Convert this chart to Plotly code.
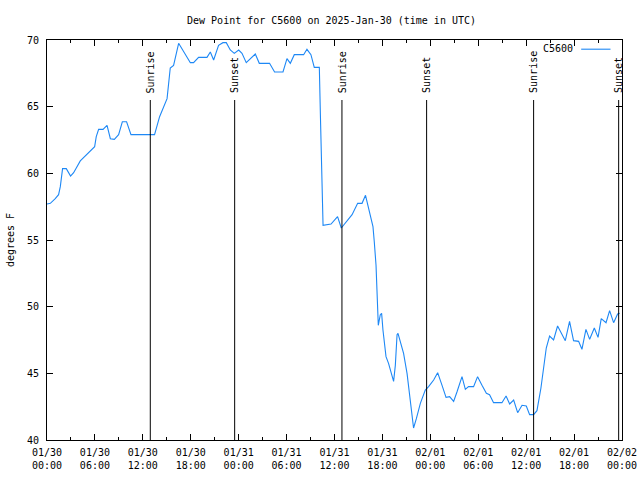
import plotly.graph_objects as go

# ---- data ----
times = [
    "2025-01-30 00:00", "2025-01-30 00:25", "2025-01-30 01:02", "2025-01-30 01:27", "2025-01-30 01:40",
    "2025-01-30 01:57", "2025-01-30 02:25", "2025-01-30 02:57", "2025-01-30 03:20", "2025-01-30 03:45",
    "2025-01-30 04:10", "2025-01-30 05:58", "2025-01-30 06:10", "2025-01-30 06:28", "2025-01-30 07:01",
    "2025-01-30 07:31", "2025-01-30 07:56", "2025-01-30 08:26", "2025-01-30 08:58", "2025-01-30 09:26",
    "2025-01-30 09:58", "2025-01-30 10:31", "2025-01-30 13:28", "2025-01-30 14:06", "2025-01-30 15:02",
    "2025-01-30 15:26", "2025-01-30 15:51", "2025-01-30 16:29", "2025-01-30 17:57", "2025-01-30 18:21",
    "2025-01-30 18:59", "2025-01-30 20:02", "2025-01-30 20:27", "2025-01-30 20:52", "2025-01-30 21:29",
    "2025-01-30 22:02", "2025-01-30 22:27", "2025-01-30 22:57", "2025-01-30 23:27", "2025-01-31 00:00",
    "2025-01-31 00:25", "2025-01-31 00:57", "2025-01-31 02:05", "2025-01-31 02:35", "2025-01-31 03:52",
    "2025-01-31 04:30", "2025-01-31 05:33", "2025-01-31 06:03", "2025-01-31 06:28", "2025-01-31 06:58",
    "2025-01-31 08:08", "2025-01-31 08:33", "2025-01-31 09:03", "2025-01-31 09:28", "2025-01-31 10:06",
    "2025-01-31 10:14", "2025-01-31 10:25", "2025-01-31 10:34", "2025-01-31 11:34", "2025-01-31 12:23",
    "2025-01-31 12:51", "2025-01-31 14:12", "2025-01-31 14:54", "2025-01-31 15:27", "2025-01-31 15:53",
    "2025-01-31 16:29", "2025-01-31 16:49", "2025-01-31 16:59", "2025-01-31 17:12", "2025-01-31 17:19",
    "2025-01-31 17:29", "2025-01-31 17:44", "2025-01-31 17:54", "2025-01-31 18:04", "2025-01-31 18:14",
    "2025-01-31 18:27", "2025-01-31 18:46", "2025-01-31 19:04", "2025-01-31 19:24", "2025-01-31 19:37",
    "2025-01-31 19:50", "2025-01-31 19:57", "2025-01-31 20:14", "2025-01-31 20:39", "2025-01-31 21:05",
    "2025-01-31 21:30", "2025-01-31 21:54", "2025-01-31 22:15", "2025-01-31 22:45", "2025-01-31 23:22",
    "2025-01-31 23:47", "2025-02-01 00:25", "2025-02-01 00:55", "2025-02-01 01:28", "2025-02-01 01:58",
    "2025-02-01 02:25", "2025-02-01 02:55", "2025-02-01 03:20", "2025-02-01 03:58", "2025-02-01 04:23",
    "2025-02-01 04:47", "2025-02-01 05:25", "2025-02-01 05:55", "2025-02-01 06:28", "2025-02-01 07:01",
    "2025-02-01 07:25", "2025-02-01 07:55", "2025-02-01 08:58", "2025-02-01 09:29", "2025-02-01 09:56",
    "2025-02-01 10:26", "2025-02-01 10:56", "2025-02-01 11:29", "2025-02-01 12:01", "2025-02-01 12:26",
    "2025-02-01 12:56", "2025-02-01 13:21", "2025-02-01 13:51", "2025-02-01 14:11", "2025-02-01 14:31",
    "2025-02-01 14:56", "2025-02-01 15:26", "2025-02-01 15:56", "2025-02-01 16:29", "2025-02-01 16:54",
    "2025-02-01 17:26", "2025-02-01 17:56", "2025-02-01 18:34", "2025-02-01 18:59", "2025-02-01 19:29",
    "2025-02-01 19:57", "2025-02-01 20:32", "2025-02-01 21:00", "2025-02-01 21:24", "2025-02-01 22:00",
    "2025-02-01 22:27", "2025-02-01 22:57", "2025-02-01 23:27", "2025-02-01 23:43",
]
dewpoint = [
    57.7, 57.75, 58.1, 58.4, 59.0,
    60.35, 60.35, 59.8, 60.05, 60.55,
    60.93, 62.0, 62.75, 63.3, 63.3,
    63.6, 62.6, 62.55, 62.9, 63.87,
    63.87, 62.9, 62.9, 64.25, 65.6,
    67.9, 68.1, 69.75, 68.3, 68.3,
    68.7, 68.7, 69.1, 68.5, 69.6,
    69.8, 69.8, 69.25, 69.0, 69.25,
    69.0, 68.3, 68.95, 68.25, 68.25,
    67.6, 67.6, 68.6, 68.25, 68.9,
    68.9, 69.3, 68.9, 67.95, 67.95,
    64.4, 60.6, 56.1, 56.2, 56.75,
    55.9, 56.9, 57.75, 57.75, 58.35,
    56.9, 56.0, 54.85, 53.1, 51.25,
    48.6, 49.4, 49.5, 48.25, 47.5,
    46.25, 45.75, 45.1, 44.4, 45.6,
    47.9, 48.0, 47.4, 46.5, 45.0,
    43.0, 40.9, 41.6, 42.75, 43.75,
    44.0, 44.5, 45.05, 44.1, 43.2,
    43.25, 42.9, 43.6, 44.75, 43.8,
    44.0, 44.0, 44.75, 44.1, 43.5,
    43.4, 42.8, 42.8, 43.3, 42.7,
    43.0, 42.05, 42.6, 42.55, 41.9,
    41.9, 42.2, 43.9, 45.6, 46.9,
    47.8, 47.5, 48.55, 47.9, 47.45,
    48.9, 47.45, 47.4, 46.8, 48.3,
    47.55, 48.4, 47.7, 49.1, 48.8,
    49.7, 48.8, 49.45, 49.5,
]
sun_times = ["2025-01-30 12:56", "2025-01-30 23:30", "2025-01-31 12:56",
             "2025-01-31 23:32", "2025-02-01 12:56", "2025-02-01 23:35"]
sun_labels = ["Sunrise", "Sunset", "Sunrise", "Sunset", "Sunrise", "Sunset"]

tick_vals = ["2025-01-30 00:00", "2025-01-30 06:00", "2025-01-30 12:00", "2025-01-30 18:00",
             "2025-01-31 00:00", "2025-01-31 06:00", "2025-01-31 12:00", "2025-01-31 18:00",
             "2025-02-01 00:00", "2025-02-01 06:00", "2025-02-01 12:00", "2025-02-01 18:00",
             "2025-02-02 00:00"]
tick_text = ["01/30<br>00:00", "01/30<br>06:00", "01/30<br>12:00", "01/30<br>18:00",
             "01/31<br>00:00", "01/31<br>06:00", "01/31<br>12:00", "01/31<br>18:00",
             "02/01<br>00:00", "02/01<br>06:00", "02/01<br>12:00", "02/01<br>18:00",
             "02/02<br>00:00"]
y_ticks = [40, 45, 50, 55, 60, 65, 70]
series_name = "C5600"
title_text = "Dew Point for C5600 on 2025-Jan-30 (time in UTC)"

FONT = "DejaVu Sans Mono"
LINE_COLOR = "#1E88F5"

fig = go.Figure()
fig.add_trace(go.Scatter(x=times, y=dewpoint, mode="lines", name=series_name,
                         line=dict(color=LINE_COLOR, width=1.1), showlegend=False))

line_top = 65.5
for t, lab in zip(sun_times, sun_labels):
    fig.add_shape(type="line", x0=t, x1=t, y0=40, y1=line_top, xref="x", yref="y",
                  line=dict(color="black", width=1))
    fig.add_annotation(x=t, y=65.85, xref="x", yref="y", text=lab, textangle=-90,
                       showarrow=False, xanchor="center", yanchor="bottom",
                       font=dict(family=FONT, size=10, color="black"))

# legend (text then line sample)
fig.add_annotation(x=0.919, y=0.978, xref="paper", yref="paper", text=series_name,
                   showarrow=False, xanchor="right", yanchor="middle",
                   font=dict(family=FONT, size=10, color="black"))
fig.add_shape(type="line", x0=0.929, x1=0.980, y0=0.977, y1=0.977, xref="paper", yref="paper",
              line=dict(color=LINE_COLOR, width=1.1))

fig.update_layout(
    width=640, height=480,
    margin=dict(l=47, r=18, t=40, b=40),
    paper_bgcolor="white", plot_bgcolor="white",
    font=dict(family=FONT, size=10, color="black"),
    title=dict(text=title_text, x=0.518, xanchor="center", y=0.958, yanchor="middle",
               font=dict(family=FONT, size=10, color="black")),
    showlegend=False,
)
fig.update_xaxes(
    type="date", range=["2025-01-30 00:00", "2025-02-02 00:00"],
    tickvals=tick_vals, ticktext=tick_text, automargin=False,
    ticks="inside", ticklen=6, tickcolor="black", tickwidth=1,
    minor=dict(dtick=3 * 3600 * 1000, ticks="inside", ticklen=3, tickcolor="black",
               tick0="2025-01-30 00:00", showgrid=False),
    showline=True, linecolor="black", linewidth=1, mirror="ticks",
    showgrid=False, zeroline=False, tickangle=0, ticklabelstandoff=3,
)
fig.update_yaxes(
    range=[40, 70], tickvals=y_ticks, automargin=False,
    ticks="inside", ticklen=6, tickcolor="black", tickwidth=1,
    showline=True, linecolor="black", linewidth=1, mirror="ticks",
    showgrid=False, zeroline=False, ticklabelstandoff=5,
    title=dict(text="degrees F", standoff=10, font=dict(family=FONT, size=10)),
)

fig.write_html("out.html")
